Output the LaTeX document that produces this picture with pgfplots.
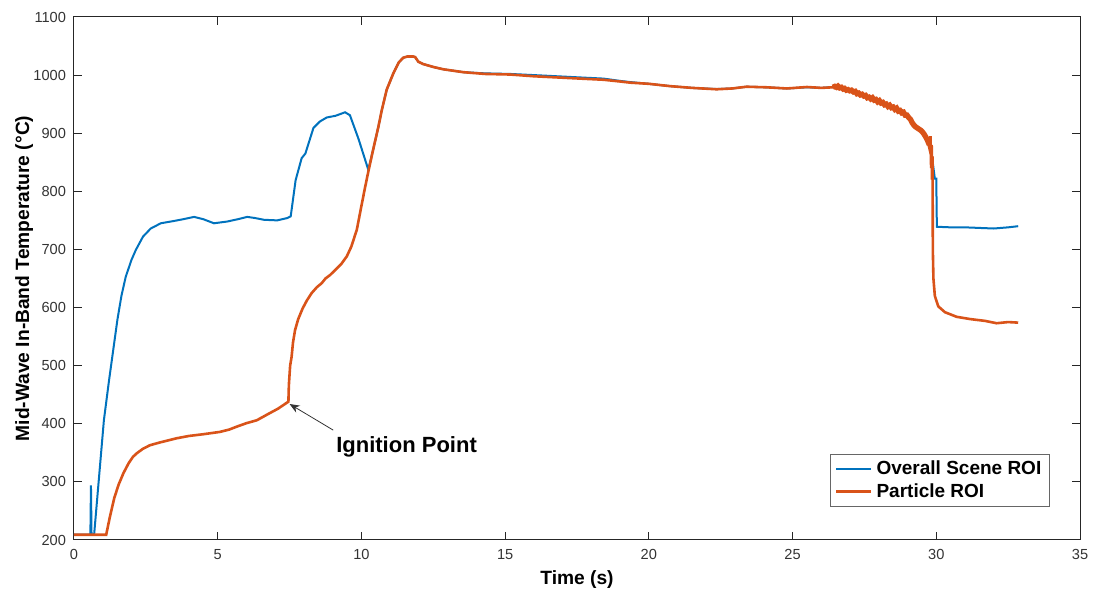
\documentclass[border=0pt]{standalone}
\usepackage{fontspec}
\setmainfont{Liberation Sans}
\usepackage{pgfplots}
\pgfplotsset{compat=1.18}
\usetikzlibrary{calc,arrows.meta}
\definecolor{mblue}{rgb}{0,0.447,0.741}
\definecolor{morange}{rgb}{0.85,0.325,0.098}
\definecolor{axgray}{rgb}{0.15,0.15,0.15}
\begin{document}
\begin{tikzpicture}
\begin{axis}[
  scale only axis,
  width=503pt, height=261.5pt,
  xmin=0, xmax=35, ymin=200, ymax=1100,
  xtick={0,5,...,35}, ytick={200,300,...,1100},
  tick align=inside,
  major tick length=4pt,
  axis line style={axgray, line width=0.5pt},
  every tick/.style={axgray, line width=0.5pt},
  tick label style={font=\fontsize{7.3}{8}\selectfont, text=black!80},
  /pgf/number format/assume math mode=true,
  /pgf/number format/1000 sep={},
  xticklabel style={yshift=-1pt},
  yticklabel style={xshift=-0.5pt},
  xlabel={Time (s)},
  ylabel={Mid-Wave In-Band Temperature (°C)},
  every axis x label/.style={at={(axis description cs:0.5,0)}, anchor=center, yshift=-20pt,
    font=\bfseries\fontsize{9.6}{11}\selectfont},
  every axis y label/.style={at={(axis description cs:-0.0495,0.5)}, anchor=center, rotate=90,
    font=\bfseries\fontsize{9.6}{11}\selectfont},
  legend style={at={(0.970,0.063)}, anchor=south east, draw=black!60, line width=0.5pt,
    font=\bfseries\fontsize{9.5}{11}\selectfont, inner xsep=2pt, inner ysep=1.2pt,
    row sep=-1pt, cells={anchor=west}},
  legend image code/.code={\draw[#1] (0pt,0pt) -- (17.5pt,0pt);},
  clip=true,
]
\addplot[mblue, line width=1pt] coordinates {
(0,209) (0.57,209) (0.59,294) (0.61,209) (0.70,209) (1.04,406) (1.22,475) (1.51,579) (1.65,620)
(1.80,653) (2.0,682) (2.15,699) (2.4,722) (2.67,736) (3.02,745) (3.48,749) (3.8,752) (4.18,756)
(4.5,752) (4.87,745) (5.33,748) (5.7,752) (6.03,756) (6.3,754) (6.61,751) (7.07,750) (7.42,754)
(7.54,757) (7.71,819) (7.92,857) (8.05,865) (8.33,909) (8.55,920) (8.79,927) (9.1,930) (9.43,936)
(9.6,931) (9.9,890) (10.24,837) (10.4,870) (10.59,911) (10.71,940) (10.88,975) (11.11,1003)
(11.3,1022) (11.46,1030) (11.6,1032) (11.8,1032) (11.87,1031) (11.98,1023) (12.15,1019)
(12.5,1014) (12.85,1010) (13.55,1005) (14.3,1003) (15.17,1002) (16.0,1000) (16.8,998) (17.6,996)
(18.42,994) (19.0,990) (19.35,988) (20.0,985) (20.74,981) (21.5,978) (22.36,976) (22.9,977)
(23.4,980) (24.1,979) (24.8,977) (25.5,979) (26.0,978) (26.53,980) (27.12,972) (27.81,960)
(28.62,943) (28.86,938) (29.2,915) (29.55,902) (29.71,885) (29.85,860) (29.95,822) (30.0,822)
(30.02,739) (30.5,738) (31.0,738) (31.5,737) (32.0,736) (32.5,738) (32.85,740)
};
\addlegendentry{Overall Scene ROI}
\addplot[morange, line width=1.3pt] coordinates {
(0,209) (1.12,209) (1.25,240) (1.4,272) (1.55,295) (1.72,315) (1.9,332) (2.05,343) (2.18,349)
(2.4,357) (2.64,363) (3.0,368) (3.57,375) (4.0,379) (4.5,382) (5.08,386) (5.4,390) (5.66,395)
(6.0,401) (6.36,406) (6.8,418) (7.1,426) (7.46,438) (7.47,458) (7.48,470) (7.52,500) (7.57,515)
(7.62,540) (7.69,561) (7.8,580) (7.95,598) (8.1,612) (8.27,625) (8.45,635) (8.62,642) (8.75,650)
(8.91,656) (9.1,665) (9.3,675) (9.49,688) (9.65,705) (9.84,734) (10.0,775) (10.12,805) (10.24,834)
(10.4,870) (10.59,911) (10.71,940) (10.88,975) (11.11,1003) (11.3,1022) (11.46,1030) (11.6,1032)
(11.8,1032) (11.87,1031) (11.98,1023) (12.15,1019) (12.5,1014) (12.85,1010) (13.55,1005)
(14.3,1002) (15.17,1001) (16.0,998) (16.8,996) (17.6,994) (18.42,992) (19.0,989) (19.35,987)
(20.0,985) (20.74,981) (21.5,978) (22.36,975.6) (22.9,977) (23.4,980) (24.1,979) (24.8,977)
(25.5,979.5) (26.0,978) (26.4,979) (26.53,980) (27.12,972) (27.81,960) (28.62,943) (28.86,938)
(29.2,915) (29.55,902) (29.71,885) (29.78,870) (29.80,895) (29.82,840) (29.84,880) (29.85,820)
(29.87,860) (29.88,700) (29.9,650) (29.95,620) (30.07,602) (30.3,592) (30.71,584) (31.2,580)
(31.7,577) (32.1,573) (32.5,575) (32.85,574)
};
\addlegendentry{Particle ROI}
\addplot[morange, line width=2.7pt, forget plot] coordinates {
(26.40,979) (26.47,980.5) (26.53,979) (26.58,981) (26.64,978) (26.70,979) (26.76,976) (26.81,977)
(26.87,974) (26.93,975) (26.99,973) (27.05,974) (27.12,971) (27.18,972) (27.24,968) (27.30,969)
(27.36,966) (27.42,967) (27.48,964) (27.54,965) (27.60,961) (27.66,962) (27.72,959) (27.78,961)
(27.84,957) (27.90,958) (27.96,954) (28.02,956) (28.08,952) (28.14,953) (28.20,949) (28.26,950)
(28.32,946) (28.38,948) (28.44,944) (28.50,945) (28.56,941) (28.62,943) (28.68,938) (28.74,939)
(28.80,935) (28.86,936) (28.92,931) (28.98,931) (29.04,927) (29.10,924) (29.16,918) (29.22,914)
(29.28,911) (29.34,909) (29.40,907) (29.46,905) (29.52,902) (29.58,898) (29.64,893) (29.70,887)
(29.76,880)
};
\draw[-{Stealth[length=5pt,width=4pt]}, black!80, line width=0.4pt] (axis cs:9.02,389) -- (axis cs:7.5,434);
\node[font=\bfseries\fontsize{11}{13}\selectfont, anchor=center] at (axis cs:11.57,360.6) {Ignition Point};
\end{axis}
\pgfresetboundingbox
\path ($(current axis.south west)+(-37pt,-26.5pt)$) rectangle ($(current axis.north east)+(9pt,8.5pt)$);
\end{tikzpicture}
\end{document}
